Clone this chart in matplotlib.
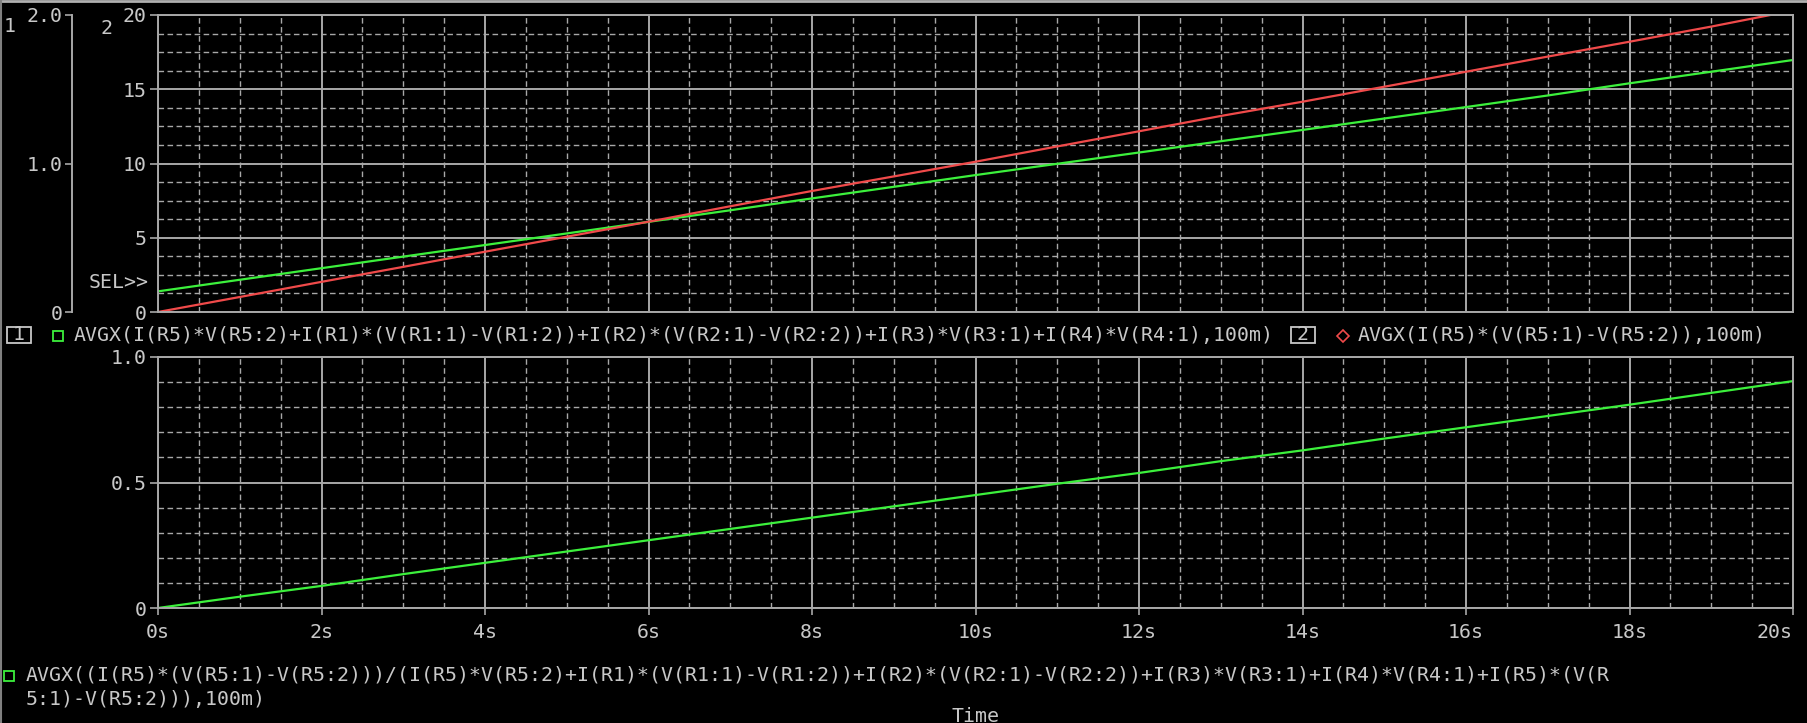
import numpy as np
import matplotlib
matplotlib.use("Agg")
import matplotlib.pyplot as plt
from matplotlib.ticker import MultipleLocator
from matplotlib.lines import Line2D
from matplotlib.patches import Rectangle

# values, 1 s apart
time_s = [0, 1, 2, 3, 4, 5, 6, 7, 8, 9, 10, 11, 12, 13, 14, 15, 16, 17, 18, 19, 20]
p_total = [1.39, 2.17, 2.95, 3.73, 4.51, 5.29, 6.07, 6.85, 7.65, 8.43, 9.22,
           9.98, 10.74, 11.50, 12.26, 13.03, 13.80, 14.58, 15.40, 16.18, 16.97]
p_r5 = [0.0, 1.01, 2.03, 3.04, 4.06, 5.07, 6.08, 7.12, 8.15, 9.13, 10.12,
        11.15, 12.17, 13.20, 14.16, 15.17, 16.18, 17.20, 18.20, 19.22, 20.30]
ratio = [0.0, 0.045, 0.088, 0.135, 0.180, 0.225, 0.270, 0.315, 0.360, 0.405, 0.450,
         0.495, 0.538, 0.585, 0.628, 0.675, 0.720, 0.765, 0.810, 0.857, 0.904]

x_ticks = [0, 2, 4, 6, 8, 10, 12, 14, 16, 18, 20]
x_labels = ["0s", "2s", "4s", "6s", "8s", "10s", "12s", "14s", "16s", "18s", "20s"]
top_ticks = [0, 5, 10, 15, 20]
top_labels = ["0", "5", "10", "15", "20"]
left_ticks = [0, 1, 2]
left_labels = ["0", "1.0", "2.0"]
bot_ticks = [0, 0.5, 1.0]
bot_labels = ["0", "0.5", "1.0"]

legend_top_1 = "AVGX(I(R5)*V(R5:2)+I(R1)*(V(R1:1)-V(R1:2))+I(R2)*(V(R2:1)-V(R2:2))+I(R3)*V(R3:1)+I(R4)*V(R4:1),100m)"
legend_top_2 = "AVGX(I(R5)*(V(R5:1)-V(R5:2)),100m)"
legend_bot_a = "AVGX((I(R5)*(V(R5:1)-V(R5:2)))/(I(R5)*V(R5:2)+I(R1)*(V(R1:1)-V(R1:2))+I(R2)*(V(R2:1)-V(R2:2))+I(R3)*V(R3:1)+I(R4)*V(R4:1)+I(R5)*(V(R"
legend_bot_b = "5:1)-V(R5:2))),100m)"

W, H = 1807, 723
FG = "#c8c8c8"
GRID = "#a8a8a8"
GREEN = "#3cf03c"
RED = "#f04a4a"
FONT = "DejaVu Sans Mono"
FS = 14.3

plt.rcParams["font.family"] = FONT


def px_rect(l, t, r, b):
    return [l / W, 1 - b / H, (r - l) / W, (b - t) / H]


def fx(x):
    return x / W


def fy(y):
    return 1 - y / H


fig = plt.figure(figsize=(W / 100, H / 100), dpi=100, facecolor="black")


def style_axes(ax, xminor, ymajor, yminor):
    ax.set_facecolor("black")
    for s in ax.spines.values():
        s.set_color(GRID)
        s.set_linewidth(1.4)
    ax.xaxis.set_major_locator(MultipleLocator(2))
    ax.xaxis.set_minor_locator(MultipleLocator(xminor))
    ax.yaxis.set_major_locator(MultipleLocator(ymajor))
    ax.yaxis.set_minor_locator(MultipleLocator(yminor))
    ax.grid(which="major", color=GRID, linewidth=1.4, linestyle="-")
    ax.grid(which="minor", color=GRID, linewidth=1.0, linestyle=(0, (4, 2.5)))
    ax.set_axisbelow(True)
    ax.tick_params(which="minor", length=0)
    ax.tick_params(axis="y", which="major", direction="out", length=6, width=1.2,
                   color=GRID, labelcolor=FG, labelsize=FS, pad=2)
    ax.set_xlim(0, 20)


# top panel
ax1 = fig.add_axes(px_rect(158, 15, 1793, 312))
style_axes(ax1, 0.5, 5, 1.25)
ax1.set_ylim(0, 20)
ax1.set_yticks(top_ticks)
ax1.set_yticklabels(top_labels)
ax1.tick_params(axis="x", which="major", length=0, labelbottom=False)
ax1.plot(time_s, p_total, color=GREEN, linewidth=1.6)
ax1.plot(time_s, p_r5, color=RED, linewidth=1.6)

# secondary scale "1" on the far left
ax0 = fig.add_axes(px_rect(72, 15, 73, 312))
ax0.set_facecolor("none")
for k, s in ax0.spines.items():
    s.set_visible(k == "left")
ax0.spines["left"].set_color(GRID)
ax0.spines["left"].set_linewidth(1.4)
ax0.set_ylim(0, 2)
ax0.set_yticks(left_ticks)
ax0.set_yticklabels(left_labels)
ax0.set_xticks([])
ax0.tick_params(axis="y", direction="out", length=5, width=1.2, color=GRID,
                labelcolor=FG, labelsize=FS, pad=2)

# bottom panel
ax2 = fig.add_axes(px_rect(158, 357, 1793, 608))
style_axes(ax2, 0.5, 0.5, 0.1)
ax2.set_ylim(0, 1.0)
ax2.set_yticks(bot_ticks)
ax2.set_yticklabels(bot_labels)
ax2.set_xticks(x_ticks)
ax2.set_xticklabels(x_labels)
ax2.tick_params(axis="x", which="major", direction="out", length=5, width=1.2,
                color=GRID, labelcolor=FG, labelsize=FS, pad=6)
ax2.get_xticklabels()[-1].set_horizontalalignment("right")
ax2.plot(time_s, ratio, color=GREEN, linewidth=1.6)

# labels and legends
txt = dict(color=FG, fontsize=FS, family=FONT, va="center")
fig.text(fx(4), fy(27), "1", ha="left", **txt)
fig.text(fx(100), fy(28), "2", ha="left", **txt)
fig.text(fx(149), fy(283), "SEL>>", ha="right", **txt)

fig.add_artist(Rectangle((fx(7), fy(343)), (31 - 7) / W, 16 / H, transform=fig.transFigure,
                         fill=False, edgecolor=FG, linewidth=1.3))
fig.text(fx(19), fy(335), "1", ha="center", **txt)
fig.add_artist(Line2D([fx(58)], [fy(336)], transform=fig.transFigure, marker="s",
                      markersize=6.5, markerfacecolor="none", markeredgecolor=GREEN,
                      markeredgewidth=1.3, linestyle="none"))
fig.text(fx(74), fy(335), legend_top_1, ha="left", **txt)

fig.add_artist(Rectangle((fx(1291), fy(343)), (1315 - 1291) / W, 16 / H, transform=fig.transFigure,
                         fill=False, edgecolor=FG, linewidth=1.3))
fig.text(fx(1303), fy(335), "2", ha="center", **txt)
fig.add_artist(Line2D([fx(1343)], [fy(336)], transform=fig.transFigure, marker="D",
                      markersize=6, markerfacecolor="none", markeredgecolor=RED,
                      markeredgewidth=1.2, linestyle="none"))
fig.text(fx(1358), fy(335), legend_top_2, ha="left", **txt)

fig.add_artist(Line2D([fx(9)], [fy(676)], transform=fig.transFigure, marker="s",
                      markersize=6.5, markerfacecolor="none", markeredgecolor=GREEN,
                      markeredgewidth=1.3, linestyle="none"))
fig.text(fx(26), fy(675), legend_bot_a, ha="left", **txt)
fig.text(fx(26), fy(700), legend_bot_b, ha="left", **txt)
fig.text(fx(975), fy(707), "Time", ha="center", color=FG, fontsize=FS, family=FONT, va="top")

# window border
fig.add_artist(Line2D([0, 1], [fy(1), fy(1)], transform=fig.transFigure, color="#b0b0b0", linewidth=2))
fig.add_artist(Line2D([fx(0.5), fx(0.5)], [0, 1], transform=fig.transFigure, color="#808080", linewidth=1.5))

fig.savefig("out.png", dpi=100, facecolor="black")
